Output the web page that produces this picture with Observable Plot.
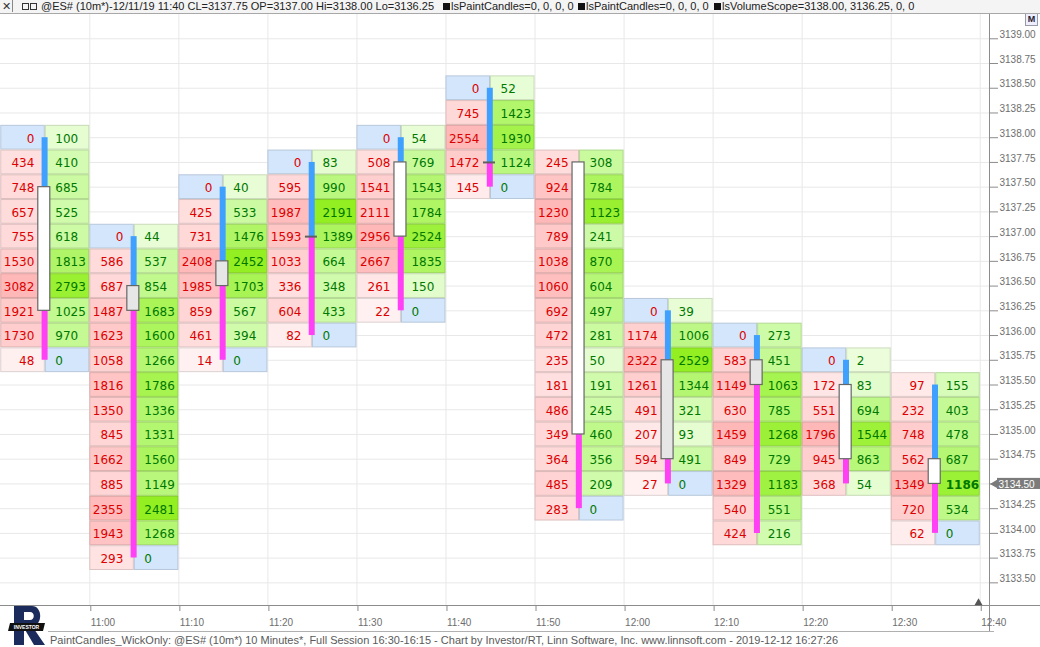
<!DOCTYPE html>
<html><head><meta charset="utf-8">
<script src="https://cdn.jsdelivr.net/npm/d3@7"></script>
<script src="https://cdn.jsdelivr.net/npm/@observablehq/plot@0.6"></script>
<style>
body{margin:0;background:#fff;}
#wrap{position:relative;width:1040px;height:647px;overflow:hidden;font-family:"Liberation Sans",Arial,sans-serif;background:#fff;}
#hdr{position:absolute;left:0;top:0;width:1040px;height:13px;background:#f4f4f4;border-bottom:1px solid #a8a8a8;font-size:11px;line-height:13px;color:#222;white-space:pre;z-index:2;}
#hdr span{position:absolute;top:0;}
.sq{display:inline-block;width:7px;height:7px;background:#111;margin-right:1px;vertical-align:-0px;}
#chart{position:absolute;left:0;top:14px;}
#foot{position:absolute;left:48px;top:631px;width:944px;height:16px;border-top:1px solid #b0b0b0;font-size:11px;line-height:16px;color:#5a5a5a;white-space:pre;padding-left:2px;}
#logo{position:absolute;left:7px;top:604px;}
#mbtn{position:absolute;left:1025px;top:13px;width:11px;height:11px;border:1px solid #9a9aa8;background:#eef;font:bold 9px "Liberation Sans";color:#223;text-align:center;line-height:11px;}
</style></head><body><div id="wrap">
<div id="hdr">
  <span style="left:0;width:12px;height:12px;border-right:1px solid #888;text-align:center;color:#333;">✕</span>
  <span style="left:22px;top:3px;width:5px;height:5px;border:1px solid #333;"></span>
  <span style="left:30px;top:3px;width:5px;height:5px;border:1px solid #333;"></span>
  <span style="left:41px;">@ES# (10m*)-12/11/19 11:40 CL=3137.75 OP=3137.00 Hi=3138.00 Lo=3136.25</span>
  <span style="left:443px;"><i class="sq"></i>lsPaintCandles=0, 0, 0, 0</span>
  <span style="left:578px;"><i class="sq"></i>lsPaintCandles=0, 0, 0, 0</span>
  <span style="left:714px;"><i class="sq"></i>lsVolumeScope=3138.00, 3136.25, 0, 0</span>
</div>
<div id="mbtn">M</div>
<div id="chart"></div>
<svg id="logo" width="40" height="42" viewBox="0 0 40 42">
  <path d="M7 2 H25 C36 2 36 22 25 22 L38 41 H27 L17 24 V41 H7 Z M17 8 V16 H23 C28 16 28 8 23 8 Z" fill="#1b2c5c" fill-rule="evenodd"/>
  <polygon points="3,19 38,19 36,27 1,27" fill="#111"/>
  <text x="19.5" y="25" text-anchor="middle" font-family="Liberation Sans" font-weight="bold" font-size="5" fill="#fff">INVESTOR</text>
</svg>
<div id="foot">PaintCandles_WickOnly: @ES# (10m*) 10 Minutes*, Full Session 16:30-16:15 - Chart by Investor/RT, Linn Software, Inc. www.linnsoft.com - 2019-12-12 16:27:26</div>
</div>
<script>
// ---- data ----
const barTimes = ["10:50","11:00","11:10","11:20","11:30","11:40","11:50","12:00","12:10","12:20","12:30"];
const topPrices = [3138.00,3137.00,3137.50,3137.75,3138.00,3138.50,3137.75,3136.25,3136.00,3135.75,3135.50];
const opens  = [3137.50,3136.25,3136.50,3137.00,3137.75,3137.75,3137.75,3134.75,3135.50,3135.50,3134.75];
const closes = [3136.25,3136.50,3136.75,3137.00,3137.00,3137.75,3135.00,3135.75,3135.75,3134.75,3134.50];
const bidVolumes = [
  [0,434,748,657,755,1530,3082,1921,1730,48],
  [0,586,687,1487,1623,1058,1816,1350,845,1662,885,2355,1943,293],
  [0,425,731,2408,1985,859,461,14],
  [0,595,1987,1593,1033,336,604,82],
  [0,508,1541,2111,2956,2667,261,22],
  [0,745,2554,1472,145],
  [245,924,1230,789,1038,1060,692,472,235,181,486,349,364,485,283],
  [0,1174,2322,1261,491,207,594,27],
  [0,583,1149,630,1459,849,1329,540,424],
  [0,172,551,1796,945,368],
  [97,232,748,562,1349,720,62]
];
const askVolumes = [
  [100,410,685,525,618,1813,2793,1025,970,0],
  [44,537,854,1683,1600,1266,1786,1336,1331,1560,1149,2481,1268,0],
  [40,533,1476,2452,1703,567,394,0],
  [83,990,2191,1389,664,348,433,0],
  [54,769,1543,1784,2524,1835,150,0],
  [52,1423,1930,1124,0],
  [308,784,1123,241,870,604,497,281,50,191,245,460,356,209,0],
  [39,1006,2529,1344,321,93,491,0],
  [273,451,1063,785,1268,729,1183,551,216],
  [2,83,694,1544,863,54],
  [155,403,478,687,1186,534,0]
];
const timeTickLabels = ["11:00","11:10","11:20","11:30","11:40","11:50","12:00","12:10","12:20","12:30","12:40"];
const priceTickLabels = ["3133.50","3133.75","3134.00","3134.25","3134.50","3134.75","3135.00","3135.25","3135.50","3135.75","3136.00","3136.25","3136.50","3136.75","3137.00","3137.25","3137.50","3137.75","3138.00","3138.25","3138.50","3138.75","3139.00"];
const lastPrice = 3134.50;

// ---- derived ----
const toMin = s => { const [h, m] = s.split(":").map(Number); return h * 60 + m; };
const tick = 0.25;
const pink = d3.scaleLinear().domain([0,0.15,0.4,0.7,1]).range(["#fff2f2","#ffdfdf","#ffd3d3","#ffc7c7","#ffb8b8"]).clamp(true);
const green = d3.scaleLinear().domain([0,0.15,0.4,0.7,1]).range(["#ebfddb","#d1fbad","#bdf887","#a8f454","#93ef22"]).clamp(true);
const zeroFill = "#d3e6fb";
const border = c => d3.color(c).darker(0.4).formatHex();

const bars = barTimes.map((t, i) => {
  const start = toMin(t);
  const n = bidVolumes[i].length;
  return {start, center: start + 5, high: topPrices[i], low: topPrices[i] - tick * (n - 1),
          open: opens[i], close: closes[i], max: d3.max([...bidVolumes[i], ...askVolumes[i]])};
});
const cells = [];
bars.forEach((b, i) => {
  bidVolumes[i].forEach((v, j) => {
    const price = b.high - tick * j;
    const a = askVolumes[i][j];
    const bf = v === 0 ? zeroFill : pink(v / b.max);
    const af = a === 0 ? zeroFill : green(a / b.max);
    cells.push({side: "bid", x1: b.start, x2: b.start + 5, price, v, fill: bf, stroke: border(bf), center: b.center, bold: false});
    cells.push({side: "ask", x1: b.start + 5, x2: b.start + 10, price, v: a, fill: af, stroke: border(af), center: b.center,
                bold: i === bars.length - 1 && price === lastPrice});
  });
});
const bidCells = cells.filter(d => d.side === "bid");
const askCells = cells.filter(d => d.side === "ask" && !d.bold);
const boldCells = cells.filter(d => d.bold);

const pxPerMin = 8.904;
const xDomain = [649.97, 761.04];
const yDomain = [3133.271, 3139.2455];
const halfBody = 6 / pxPerMin;
const halfDoji = 6 / pxPerMin;
const bodies = bars.filter(b => b.open !== b.close);
const dojis = bars.filter(b => b.open === b.close);
const tickMins = timeTickLabels.map(toMin);
const priceTicks = priceTickLabels.map(Number);
const labelTicks = priceTicks.filter(p => p !== lastPrice); // the last-price flag carries that label
const xAt = px => xDomain[0] + px / pxPerMin;

const chart = Plot.plot({
  width: 1040, height: 617,
  marginLeft: 0, marginRight: 51, marginTop: 0, marginBottom: 26,
  x: {type: "linear", domain: xDomain, axis: null},
  y: {type: "linear", domain: yDomain, axis: null},
  color: {type: "identity"},
  style: {fontFamily: "Liberation Sans", fontSize: "10px", background: "transparent", overflow: "visible"},
  marks: [
    Plot.ruleY(priceTicks, {stroke: "#e8e8e8", strokeWidth: 1}),
    Plot.ruleX(tickMins, {stroke: "#e8e8e8", strokeWidth: 1}),
    Plot.rect(cells, {x1: "x1", x2: "x2", y1: d => d.price - tick / 2, y2: d => d.price + tick / 2,
                      fill: "fill", stroke: "stroke", strokeWidth: 1, inset: 0.5}),
    Plot.text(bidCells, {x: "center", y: "price", text: d => String(d.v), dx: -11, dy: 1, textAnchor: "end",
                         fill: "#dc0000", fontFamily: "DejaVu Sans", fontSize: 12}),
    Plot.text(askCells, {x: "center", y: "price", text: d => String(d.v), dx: 10, dy: 1, textAnchor: "start",
                         fill: "#007800", fontFamily: "DejaVu Sans", fontSize: 12}),
    Plot.text(boldCells, {x: "center", y: "price", text: d => String(d.v), dx: 10, dy: 1, textAnchor: "start",
                          fill: "#007800", fontFamily: "DejaVu Sans", fontWeight: "bold", fontSize: 12}),
    Plot.ruleX(bars, {x: "center", y1: "high", y2: d => Math.max(d.open, d.close), stroke: "#40a0ff", strokeWidth: 6, dx: -0.7}),
    Plot.ruleX(bars, {x: "center", y1: d => Math.min(d.open, d.close), y2: "low", stroke: "#ff40f4", strokeWidth: 6, dx: -0.7}),
    Plot.rect(bodies, {x1: d => d.center - halfBody, x2: d => d.center + halfBody, y1: "open", y2: "close",
                       fill: d => d.close < d.open ? "#ffffff" : "#e6e6e6", stroke: "#666666", strokeWidth: 1.2, dx: -1}),
    Plot.ruleY(dojis, {y: "open", x1: d => d.center - halfDoji, x2: d => d.center + halfDoji, stroke: "#606060", strokeWidth: 2, dx: -1}),
    // axis lines
    Plot.ruleX([xDomain[1]], {y1: yDomain[1], y2: yDomain[0] - 26 / 98.92, stroke: "#8c8c8c"}),
    Plot.ruleY([yDomain[0]], {x1: xDomain[0], x2: xAt(1040), stroke: "#8c8c8c"}),
    Plot.axisX({ticks: tickMins, tickFormat: d => timeTickLabels[tickMins.indexOf(d)], tickSize: 6, tickPadding: 7,
                textAnchor: "start", dx: 1, stroke: "#8c8c8c", fill: "#6e6e6e", fontSize: 10}),
    Plot.ruleY(priceTicks, {x1: xDomain[1], x2: xAt(998), stroke: "#8c8c8c"}),
    Plot.axisY({anchor: "right", ticks: labelTicks, tickFormat: d => d.toFixed(2), tickSize: 0, tickPadding: 10,
                dy: -4, fill: "#6e6e6e", fontSize: 10}),
    Plot.dot([0], {x: () => xAt(978), y: () => yDomain[0], symbol: "triangle", r: 3, dy: -2.5, fill: "#555", stroke: null}),
    // last price marker
    Plot.rect([lastPrice], {x1: () => xAt(997), x2: () => xAt(1041), y1: d => d - 0.056, y2: d => d + 0.056, fill: "#7b7b7b"}),
    Plot.dot([lastPrice], {x: () => xAt(995), y: d => d, symbol: "triangle", r: 3.6, rotate: -90, fill: "#7b7b7b", stroke: null}),
    Plot.text([lastPrice], {x: () => xAt(998), y: d => d, text: d => d.toFixed(2), textAnchor: "start", fill: "#ffffff", fontSize: 10, dy: 0.5})
  ]
});
document.getElementById("chart").appendChild(chart);
</script>
</body></html>
